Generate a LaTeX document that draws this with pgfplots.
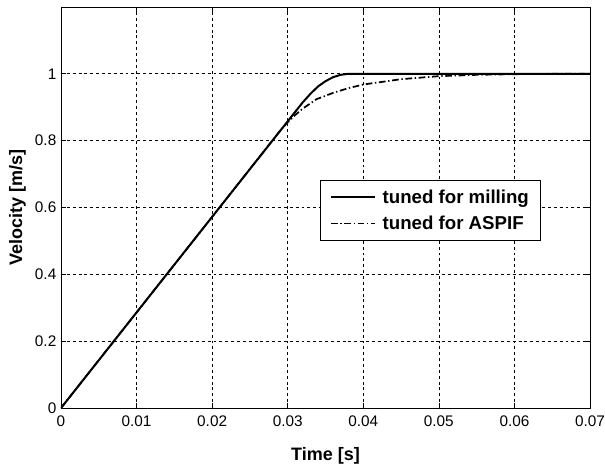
\documentclass[border=0pt]{standalone}
\usepackage{pgfplots}
\pgfplotsset{compat=1.18}
\usepackage{fontspec}
\setmainfont{Liberation Sans}
\begin{document}
\begin{tikzpicture}
\begin{axis}[
    scale only axis,
    width=396.75pt, height=300.75pt,
    xmin=0, xmax=0.07, ymin=0, ymax=1.2,
    xtick={0,0.01,...,0.07},
    ytick={0,0.2,...,1},
    xticklabels={0,0.01,0.02,0.03,0.04,0.05,0.06,0.07},
    yticklabels={0,0.2,0.4,0.6,0.8,1},
    scaled x ticks=false,
    /pgf/number format/assume math mode=true,
    ticklabel style={font=\fontsize{11.5}{13}\selectfont},
    xticklabel style={yshift=-2pt},
    tick align=inside,
    major tick length=4pt,
    tick style={black, line width=0.5pt},
    grid=major,
    major grid style={black, line width=0.5pt, dash pattern=on 2.2pt off 2.2pt},
    axis line style={black, line width=0.7pt},
    xlabel={\bfseries Time [s]},
    ylabel={\bfseries Velocity [m/s]},
    label style={font=\fontsize{13.5}{15}\selectfont},
    xlabel style={yshift=-9pt},
    ylabel style={yshift=0pt},
    legend style={at={(0.49,0.569)}, anchor=north west,
        draw=black, line width=0.7pt,
        font=\fontsize{14}{16}\selectfont\bfseries,
        inner xsep=7pt, inner ysep=5pt, row sep=4pt},
    legend cell align=left,
    legend image code/.code={\draw[#1] (0pt,0pt) -- (33pt,0pt); \path (36pt,0pt);},
]
\addplot[black, line width=1.5pt] coordinates {
 (0,0) (0.01,0.286) (0.02,0.572) (0.03,0.858) (0.032,0.915) (0.033,0.94)
 (0.034,0.962) (0.035,0.978) (0.036,0.99) (0.037,0.997) (0.038,1) (0.07,1)};
\addlegendentry{tuned for milling}
\addplot[black, line width=1.3pt, dash pattern=on 5pt off 2pt on 1pt off 2pt] coordinates {
 (0,0) (0.01,0.286) (0.02,0.572) (0.029,0.83) (0.030,0.855) (0.031,0.877)
 (0.032,0.896) (0.0338,0.924) (0.036,0.943) (0.038,0.957) (0.04,0.968)
 (0.045,0.984) (0.05,0.993) (0.055,0.997) (0.06,0.999) (0.065,1) (0.07,1)};
\addlegendentry{tuned for ASPIF}
\end{axis}
\pgfresetboundingbox
\path ([xshift=-45.75pt,yshift=-45pt]current axis.south west) rectangle ([xshift=11.25pt,yshift=5.25pt]current axis.north east);
\end{tikzpicture}
\end{document}
